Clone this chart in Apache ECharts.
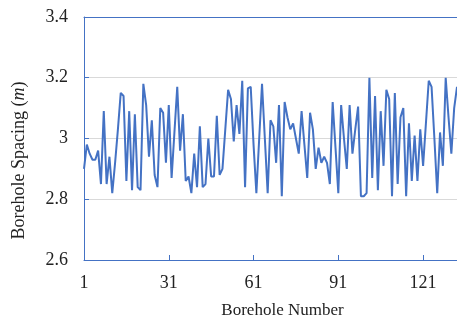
<!DOCTYPE html>
<html>
<head>
<meta charset="utf-8">
<script src="https://cdn.jsdelivr.net/npm/echarts@6/dist/echarts.min.js"></script>
<style>html,body{margin:0;padding:0;background:#fff}#c{width:457px;height:324px}</style>
</head>
<body>
<div id="c"></div>
<script>
const boreholeNumbers = [];
for (let i = 1; i <= 133; i++) boreholeNumbers.push(String(i));
const spacing = [
  2.90, 2.98, 2.95, 2.93, 2.93, 2.96, 2.85, 3.09, 2.85, 2.94,
  2.82, 2.92, 3.03, 3.15, 3.14, 2.86, 3.09, 2.83, 3.08, 2.84,
  2.83, 3.18, 3.11, 2.94, 3.06, 2.88, 2.84, 3.10, 3.085, 2.92,
  3.11, 2.87, 3.02, 3.17, 2.96, 3.08, 2.86, 2.875, 2.82, 2.95,
  2.84, 3.04, 2.84, 2.85, 3.00, 2.875, 2.875, 3.075, 2.88, 2.90,
  3.03, 3.16, 3.13, 2.99, 3.11, 3.015, 3.19, 2.84, 3.165, 3.17,
  2.98, 2.82, 3.00, 3.18, 3.00, 2.82, 3.06, 3.04, 2.92, 3.11,
  2.81, 3.12, 3.07, 3.03, 3.05, 3.00, 2.95, 3.09, 2.98, 2.87,
  3.085, 3.03, 2.90, 2.97, 2.92, 2.94, 2.92, 2.85, 3.12, 2.97,
  2.82, 3.11, 3.00, 2.90, 3.11, 2.95, 3.03, 3.105, 2.81, 2.81,
  2.82, 3.20, 2.87, 3.14, 2.83, 3.09, 2.91, 3.16, 3.13, 2.81,
  3.15, 2.85, 3.07, 3.10, 2.81, 3.05, 2.86, 3.01, 2.86, 3.03,
  2.91, 3.05, 3.19, 3.17, 3.00, 2.82, 3.02, 2.91, 3.20, 3.07,
  2.95, 3.10, 3.17
];
const yMin = 2.6, yMax = 3.4, yStep = 0.2;

const blue = '#4472C4';
const font = '"Liberation Serif", "DejaVu Serif", serif';
const chart = echarts.init(document.getElementById('c'));
chart.setOption({
  animation: false,
  grid: { left: 84, top: 17, right: 0, bottom: 59, containLabel: false },
  xAxis: [{
    type: 'category',
    data: boreholeNumbers,
    boundaryGap: false,
    axisLine: { lineStyle: { color: blue, width: 1 } },
    axisTick: { show: true, inside: true, length: 5, interval: 29, lineStyle: { color: blue } },
    axisLabel: { interval: 29, margin: 14, fontFamily: font, fontSize: 18, color: '#222' },
    splitLine: { show: false },
    name: 'Borehole Number',
    nameLocation: 'middle',
    nameGap: 42,
    nameTextStyle: { fontFamily: font, fontSize: 17, color: '#222', padding: [0, 0, 0, 24] }
  }, {
    type: 'category',
    data: boreholeNumbers,
    boundaryGap: false,
    position: 'top',
    axisLine: { show: true, lineStyle: { color: blue, width: 1 } },
    axisTick: { show: false },
    axisLabel: { show: false },
    splitLine: { show: false }
  }],
  yAxis: {
    type: 'value',
    min: yMin, max: yMax, interval: yStep,
    axisLine: { show: true, lineStyle: { color: blue, width: 1 } },
    axisTick: { show: true, inside: true, length: 5, lineStyle: { color: blue } },
    axisLabel: { margin: 16, fontFamily: font, fontSize: 18, color: '#222' },
    splitLine: { show: true, lineStyle: { color: '#d9d9d9', width: 1 } },
    name: 'Borehole Spacing ({i|m})',
    nameLocation: 'middle',
    nameGap: 56,
    nameTextStyle: {
      fontFamily: font, fontSize: 18, color: '#222', padding: [0, 44, 0, 0],
      rich: { i: { fontFamily: font, fontSize: 18, fontStyle: 'italic', color: '#222' } }
    }
  },
  series: [{
    type: 'line',
    data: spacing,
    xAxisIndex: 0,
    symbol: 'none',
    lineStyle: { color: blue, width: 2 },
    clip: false
  }]
});
</script>
</body>
</html>
